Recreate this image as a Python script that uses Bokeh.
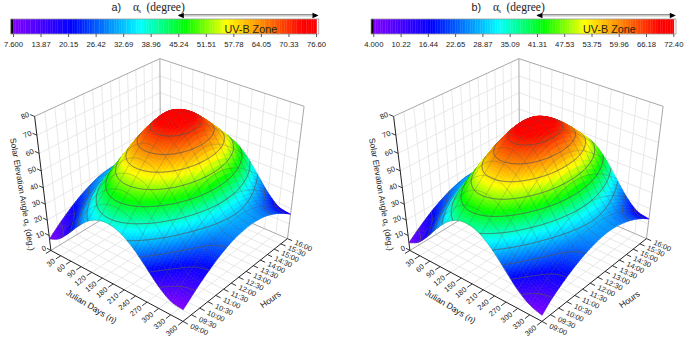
import numpy as np
from bokeh.plotting import figure
from bokeh.models import ColumnDataSource
from bokeh.core.properties import value
from bokeh.embed import file_html
from bokeh.resources import INLINE

days = [0, 30, 60, 90, 120, 150, 180, 210, 240, 270, 300, 330, 360]
hours = [9.0, 9.5, 10.0, 10.5, 11.0, 11.5, 12.0, 12.5, 13.0, 13.5, 14.0, 14.5, 15.0, 15.5, 16.0]
hour_labels = ["09:00", "09:30", "10:00", "10:30", "11:00", "11:30", "12:00", "12:30",
               "13:00", "13:30", "14:00", "14:30", "15:00", "15:30", "16:00"]
day_labels = [30, 60, 90, 120, 150, 180, 210, 240, 270, 300, 330, 360]
elev_labels = [0, 10, 20, 30, 40, 50, 60, 70, 80]

# one row per Julian day, one column per hour
elevation_a = [
    [7.7, 12.4, 16.7, 20.5, 23.8, 26.5, 28.6, 29.7, 30.2, 29.7, 28.6, 26.5, 23.8, 20.5, 16.7],
    [11.3, 16.1, 20.7, 24.7, 28.3, 31.2, 33.4, 34.7, 35.2, 34.7, 33.4, 31.2, 28.3, 24.7, 20.7],
    [18.1, 23.3, 28.3, 32.8, 36.9, 40.2, 42.8, 44.3, 44.9, 44.3, 42.8, 40.2, 36.9, 32.8, 28.3],
    [25.9, 31.7, 37.1, 42.2, 46.9, 50.9, 54.1, 56.1, 56.8, 56.1, 54.1, 50.9, 46.9, 42.2, 37.1],
    [32.6, 38.5, 44.3, 50.0, 55.3, 60.1, 64.2, 66.8, 67.8, 66.8, 64.2, 60.1, 55.3, 50.0, 44.3],
    [36.4, 42.5, 48.4, 54.3, 60.0, 65.4, 70.2, 73.5, 75.0, 73.5, 70.2, 65.4, 60.0, 54.3, 48.4],
    [37.2, 43.2, 49.1, 55.1, 60.8, 66.3, 71.3, 74.8, 76.6, 74.8, 71.3, 66.3, 60.8, 55.1, 49.1],
    [34.8, 40.8, 46.7, 52.5, 58.0, 63.1, 67.5, 70.6, 71.8, 70.6, 67.5, 63.1, 58.0, 52.5, 46.7],
    [29.4, 35.2, 40.9, 46.2, 51.3, 55.7, 59.2, 61.5, 62.4, 61.5, 59.2, 55.7, 51.3, 46.2, 40.9],
    [21.9, 27.4, 32.6, 37.4, 41.8, 45.4, 48.2, 50.0, 50.6, 50.0, 48.2, 45.4, 41.8, 37.4, 32.6],
    [14.2, 19.3, 24.0, 28.2, 32.0, 35.1, 37.4, 38.8, 39.3, 38.8, 37.4, 35.1, 32.0, 28.2, 24.0],
    [8.8, 13.6, 17.9, 21.8, 25.2, 28.0, 30.1, 31.3, 31.7, 31.3, 30.1, 28.0, 25.2, 21.8, 17.9],
    [7.6, 12.1, 16.4, 20.2, 23.5, 26.2, 28.2, 29.3, 29.8, 29.3, 28.2, 26.2, 23.5, 20.2, 16.4],
]
elevation_b = [
    [5.2, 9.6, 13.6, 17.2, 20.2, 22.7, 24.5, 25.7, 26.0, 25.7, 24.5, 22.7, 20.2, 17.2, 13.6],
    [9.0, 13.5, 17.8, 21.5, 24.8, 27.4, 29.4, 30.6, 31.0, 30.6, 29.4, 27.4, 24.8, 21.5, 17.8],
    [16.2, 21.2, 25.7, 29.9, 33.6, 36.6, 38.9, 40.2, 40.8, 40.2, 38.9, 36.6, 33.6, 29.9, 25.7],
    [24.7, 30.0, 35.0, 39.6, 43.9, 47.5, 50.2, 51.9, 52.6, 51.9, 50.2, 47.5, 43.9, 39.6, 35.0],
    [32.0, 37.6, 43.0, 48.2, 52.9, 57.1, 60.6, 62.8, 63.6, 62.8, 60.6, 57.1, 52.9, 48.2, 43.0],
    [36.4, 42.1, 47.6, 53.0, 58.2, 63.0, 66.9, 69.7, 70.7, 69.7, 66.9, 63.0, 58.2, 53.0, 47.6],
    [37.2, 42.9, 48.5, 53.9, 59.2, 64.0, 68.1, 71.0, 72.4, 71.0, 68.1, 64.0, 59.2, 53.9, 48.5],
    [34.6, 40.2, 45.8, 51.1, 56.1, 60.7, 64.4, 66.9, 67.8, 66.9, 64.4, 60.7, 56.1, 51.1, 45.8],
    [28.5, 34.0, 39.2, 44.1, 48.6, 52.5, 55.6, 57.5, 58.2, 57.5, 55.6, 52.5, 48.6, 44.1, 39.2],
    [20.3, 25.4, 30.2, 34.6, 38.5, 41.8, 44.3, 45.8, 46.4, 45.8, 44.3, 41.8, 38.5, 34.6, 30.2],
    [12.1, 16.8, 21.2, 25.1, 28.6, 31.3, 33.4, 34.7, 35.2, 34.7, 33.4, 31.3, 28.6, 25.1, 21.2],
    [6.5, 10.9, 15.0, 18.5, 21.7, 24.3, 26.1, 27.3, 27.6, 27.3, 26.1, 24.3, 21.7, 18.5, 15.0],
    [4.0, 9.3, 13.3, 16.9, 19.9, 22.3, 24.1, 25.3, 25.7, 25.3, 24.1, 22.3, 19.9, 16.9, 13.3],
]
ticks_a = ["7.600", "13.87", "20.15", "26.42", "32.69", "38.96", "45.24", "51.51", "57.78", "64.05", "70.33", "76.60"]
ticks_b = ["4.000", "10.22", "16.44", "22.65", "28.87", "35.09", "41.31", "47.53", "53.75", "59.96", "66.18", "72.40"]

STOPS = [(0.0, (128, 0, 255)), (0.19, (0, 0, 255)), (0.415, (0, 255, 255)), (0.565, (0, 255, 0)),
         (0.70, (255, 255, 0)), (0.95, (255, 0, 0)), (1.0, (255, 0, 0))]
STOP_X = [s[0] for s in STOPS]


def colour(t):
    t = min(1.0, max(0.0, t))
    rgb = [int(round(np.interp(t, STOP_X, [s[1][k] for s in STOPS]))) for k in range(3)]
    return "#%02x%02x%02x" % tuple(rgb)


def smooth_rows(T, sub):
    """Catmull-Rom drawing resolution along the first axis, so the mesh is not faceted."""
    n = T.shape[0]
    E = np.vstack([2 * T[0] - T[1], T, 2 * T[-1] - T[-2]])
    out = []
    for i in range(n - 1):
        p0, p1, p2, p3 = E[i], E[i + 1], E[i + 2], E[i + 3]
        for k in range(sub):
            t = k / sub
            out.append(0.5 * (2 * p1 + (p2 - p0) * t + (2 * p0 - 5 * p1 + 4 * p2 - p3) * t ** 2
                              + (3 * p1 - p0 - 3 * p2 + p3) * t ** 3))
    out.append(T[-1])
    return np.array(out)


F = "Liberation Sans"
p = figure(width=685, height=340, x_range=(0, 685), y_range=(340, 0), output_backend="svg",
           toolbar_location=None, min_border=0, outline_line_color=None)
p.xaxis.visible = False
p.yaxis.visible = False
p.grid.visible = False
p.background_fill_color = "white"


def camera(dx):
    world = [(0, 0, 0), (1, 0, 0), (1, 1, 0), (0, 1, 0), (0, 0, 1), (0, 1, 1), (1, 1, 1)]
    screen = [(50, 248), (183, 322), (287, 237), (160, 185), (34, 117), (160, 57), (303, 106)]
    a, b = [], []
    for (u, v, w), (x, y) in zip(world, screen):
        x += dx
        a.append([u, v, w, 1, 0, 0, 0, 0, -x * u, -x * v, -x * w]); b.append(x)
        a.append([0, 0, 0, 0, u, v, w, 1, -y * u, -y * v, -y * w]); b.append(y)
    m = np.linalg.lstsq(np.array(a, float), np.array(b, float), rcond=None)[0]
    return np.append(m, 1).reshape(3, 4)


def panel(dx, bar_x, elevation, ticks, letter, title_x):
    P = camera(dx)

    def proj(n, h, z):
        q = P @ np.array([n / 360.0, (h - 9.0) / 7.0, z / 80.0, 1.0])
        return q[0] / q[2], q[1] / q[2]

    def seg(a, b, color, width, alpha=1.0):
        pa, pb = proj(*a), proj(*b)
        p.line([pa[0], pb[0]], [pa[1], pb[1]], line_color=color, line_width=width, line_alpha=alpha)

    grid = "#e2e2e2"
    frame = "#a8a8a8"
    for z in elev_labels[1:-1]:
        seg((0, 9, z), (0, 16, z), grid, 0.8)
        seg((0, 16, z), (360, 16, z), grid, 0.8)
    for h in hours[1:-1]:
        seg((0, h, 0), (0, h, 80), grid, 0.8)
        seg((0, h, 0), (360, h, 0), grid, 0.8)
    for n in day_labels[:-1]:
        seg((n, 16, 0), (n, 16, 80), grid, 0.8)
        seg((n, 9, 0), (n, 16, 0), grid, 0.8)
    seg((0, 9, 80), (0, 16, 80), frame, 1)
    seg((0, 16, 80), (360, 16, 80), frame, 1)
    seg((0, 16, 0), (0, 16, 80), frame, 1)
    seg((360, 16, 0), (360, 16, 80), frame, 1)
    seg((0, 9, 0), (0, 16, 0), frame, 1)
    seg((0, 16, 0), (360, 16, 0), frame, 1)

    ink = "#222222"
    seg((0, 9, 0), (0, 9, 80), ink, 1)
    seg((0, 9, 0), (360, 9, 0), ink, 1)
    seg((360, 9, 0), (360, 16, 0), ink, 1)
    for n in [0] + day_labels:
        seg((n, 9, 0), (n, 8.72, 0), ink, 0.9)
    for h in hours:
        seg((360, h, 0), (372, h, 0), ink, 0.9)
    for z in elev_labels:
        seg((0, 9, z), (-12, 9, z), ink, 0.9)

    # surface, back to front, on a finer drawing mesh
    SUB = 5
    Z = np.array(elevation, float)
    zmin, zmax = Z.min(), Z.max()
    Zf = smooth_rows(smooth_rows(Z, SUB).T, SUB).T
    Nf = np.interp(np.arange(Zf.shape[0]) / SUB, np.arange(len(days)), days)
    Hf = np.interp(np.arange(Zf.shape[1]) / SUB, np.arange(len(hours)), hours)
    W = (P @ np.stack([Nf[:, None] / 360.0 * np.ones_like(Zf), (Hf[None, :] - 9.0) / 7.0 * np.ones_like(Zf),
                       Zf / 80.0, np.ones_like(Zf)], axis=1))
    Xs, Ys = W[:, 0] / W[:, 2], W[:, 1] / W[:, 2]
    levels = [float(t) for t in ticks[1:-1]]
    I, J = Zf.shape
    items = []
    for i in range(I - 1):
        for j in range(J - 1):
            idx = [(i, j), (i + 1, j), (i + 1, j + 1), (i, j + 1)]
            xq = [float(Xs[c]) for c in idx]
            yq = [float(Ys[c]) for c in idx]
            zq = [float(Zf[c]) for c in idx]
            col = colour((np.mean(zq) - zmin) / (zmax - zmin))
            key = i + (J - 2 - j)
            items.append((key, xq, yq, col, 1.0, col, 1.0, 0.6))
            if i % SUB == 0:
                items.append((key + 2.5, [xq[0], xq[3]], [yq[0], yq[3]], col, 0.0, "#555555", 0.35, 0.4))
            if j % SUB == 0:
                items.append((key + 2.5, [xq[0], xq[1]], [yq[0], yq[1]], col, 0.0, "#555555", 0.35, 0.4))
            for lev in levels:
                cross = []
                for k in range(4):
                    z0, z1 = zq[k], zq[(k + 1) % 4]
                    if (z0 - lev) * (z1 - lev) < 0:
                        t = (lev - z0) / (z1 - z0)
                        cross.append((xq[k] + t * (xq[(k + 1) % 4] - xq[k]), yq[k] + t * (yq[(k + 1) % 4] - yq[k])))
                if len(cross) >= 2:
                    items.append((key + 2.6, [cross[0][0], cross[1][0]], [cross[0][1], cross[1][1]], col, 0.0,
                                  "#555555", 0.6, 0.65))
    items.sort(key=lambda r: r[0])
    src = ColumnDataSource(dict(
        xs=[r[1] for r in items], ys=[r[2] for r in items], fc=[r[3] for r in items],
        fa=[r[4] for r in items], lc=[r[5] for r in items], la=[r[6] for r in items], lw=[r[7] for r in items]))
    p.patches("xs", "ys", source=src, fill_color="fc", fill_alpha="fa", line_color="lc",
              line_alpha="la", line_width="lw")

    def txt(x, y, s, size, angle=0.0, align="center", base="middle", font=F, color="#1a1a1a"):
        p.text([x], [y], text=[s], text_font=value(font), text_font_size=value(size), angle=[np.radians(angle)],
               text_align=align, text_baseline=base, text_color=color)

    for n in day_labels:
        x, y = proj(n, 8.62, 0)
        txt(x, y, str(n), "7.4px", 40, "right")
    for h, s in zip(hours, hour_labels):
        x, y = proj(379, h, 0)
        txt(x, y, s, "7.4px", -24, "left")
    for z in elev_labels:
        x, y = proj(-16, 9, z)
        txt(x, y, str(z), "7.4px", 24, "right")
    txt(22 + dx, 194, "Solar Elevation Angle \u03b1\u209b (deg.)", "8.4px", -80.5)
    txt(91 + dx, 306, "Julian Days (n)", "8.6px", -31)
    txt(270 + dx, 299, "Hours", "8.6px", 35)

    # colour bar
    lo, hi = float(ticks[0]), float(ticks[-1])
    x0, x1 = bar_x
    vals = np.linspace(lo, hi, 181)

    def bx(v):
        return x0 + (v - lo) / (hi - lo) * (x1 - x0)

    p.quad(left=[bx(v) for v in vals[:-1]], right=[bx(v) + (x1 - x0) / 180 + 0.3 for v in vals[:-1]],
           top=[18.5] * 180, bottom=[33.5] * 180,
           fill_color=[colour((v - lo) / (hi - lo)) for v in vals[:-1]], line_color=None)
    p.quad(left=[x0 - 2.8], right=[x0], top=[18.5], bottom=[33.5], fill_color="black", line_color=None)
    p.quad(left=[x0 - 2.8], right=[x1 + 2.2], top=[18.5], bottom=[33.5], fill_color=None,
           line_color="#9a9a9a", line_width=0.8)
    for t in ticks:
        v = float(t)
        p.line([bx(v), bx(v)], [33.5, 36.5], line_color="#333333", line_width=0.8)
        txt(bx(v), 43.5, t, "7.7px")

    # UV-B arrow
    ax0, ax1 = bx(float(ticks[6])), bx(hi)
    p.line([ax0, ax1], [15, 15], line_color="#c8c8c8", line_width=2)
    p.line([ax0, ax1], [14, 14], line_color="#444444", line_width=0.5)
    p.patches([[ax0 - 1, ax0 + 5, ax0 + 5], [ax1 + 2, ax1 - 4, ax1 - 4]],
              [[15, 12.2, 17.8], [15, 12.2, 17.8]], fill_color="black", line_color=None)
    txt(bx(float(ticks[6])) + 72, 28, "UV-B Zone", "10.8px", color="#2a2410")

    tx = title_x
    txt(tx, 6, letter, "10.8px", align="left")
    txt(tx + 21.5, 6, "\u03b1", "11.5px", align="left", font="Liberation Serif")
    txt(tx + 27, 9.5, "s", "6.5px", align="left", font="Liberation Serif")
    txt(tx + 35, 6, "(degree)", "11.5px", align="left", font="Liberation Serif")


panel(0, (13, 316), elevation_a, ticks_a, "a)", 111)
panel(359, (373.3, 673.3), elevation_b, ticks_b, "b)", 471)

open("out.html", "w").write(file_html(p, INLINE))
